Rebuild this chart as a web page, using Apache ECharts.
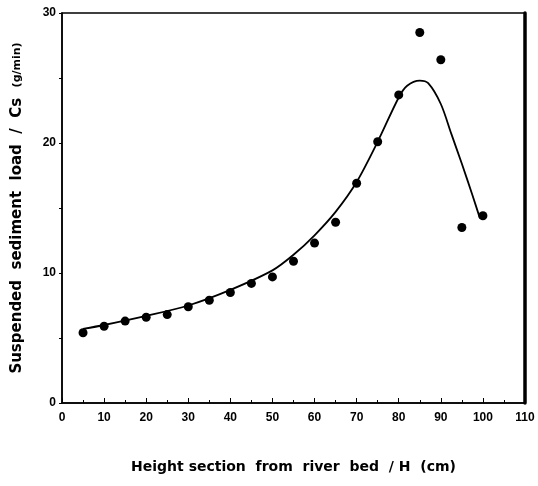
<!DOCTYPE html>
<html>
<head>
    <meta http-equiv="Content-Type" content="text/html; charset=utf-8"/>
    <script src="https://cdn.jsdelivr.net/npm/echarts@6/dist/echarts.min.js"></script>
    <style>
        html, body { margin: 0; padding: 0; background: #fff; }
    </style>
</head>
<body>

<div id="chart" style="width: 538px; height: 486px;"></div>

<script type="text/javascript">
    // measured points: height (cm) -> Cs (g/min)
    var heights = [5, 10, 15, 20, 25, 30, 35, 40, 45, 50, 55, 60, 65, 70, 75, 80, 85, 90, 95, 100];
    var loads = [5.4, 5.9, 6.3, 6.6, 6.8, 7.4, 7.9, 8.5, 9.2, 9.7, 10.9, 12.3, 13.9, 16.9, 20.1, 23.7, 28.5, 26.4, 13.5, 14.4];

    // hand drawn fitting curve
    var curveX = [5, 10, 20, 30, 40, 50, 55, 60, 65, 70, 75, 80, 82, 85, 87, 90, 92.5, 95, 97.5, 99.3];
    var curveY = [5.7, 6.0, 6.7, 7.5, 8.7, 10.2, 11.4, 12.9, 14.7, 17.0, 20.1, 23.5, 24.4, 24.8, 24.6, 23.0, 20.7, 18.4, 16.0, 14.2];

    var pts = heights.map(function (h, i) { return [h, loads[i]]; });
    var curve = curveX.map(function (x, i) { return [x, curveY[i]]; });

    var font = 'Liberation Sans';
    var chart = echarts.init(document.getElementById('chart'));

    var option = {
        animation: false,
        grid: {
            left: 62,
            right: 13,
            top: 13,
            bottom: 83,
            show: true,
            borderColor: '#000',
            borderWidth: 1.5
        },
        xAxis: {
            type: 'value',
            min: 0,
            max: 110,
            interval: 10,
            name: 'Height section  from  river  bed  / H  (cm)',
            nameLocation: 'middle',
            nameGap: 57,
            nameTextStyle: { color: '#000', fontFamily: 'DejaVu Sans', fontWeight: 'bold', fontSize: 14 },
            axisLine: { lineStyle: { color: '#000', width: 1.5 } },
            axisTick: { inside: true, length: 5, lineStyle: { color: '#000' } },
            minorTick: { show: true, splitNumber: 2, length: 3, lineStyle: { color: '#000' } },
            splitLine: { show: false },
            axisLabel: { color: '#000', fontFamily: font, fontWeight: 'bold', fontSize: 12, margin: 9 }
        },
        yAxis: [{
            type: 'value',
            min: 0,
            max: 30,
            interval: 10,
            name: '{a|Suspended  sediment  load  /  Cs  }{b|(g/min)}',
            nameLocation: 'middle',
            nameGap: 37,
            nameTextStyle: {
                rich: {
                    a: { color: '#000', fontFamily: 'DejaVu Sans', fontWeight: 'bold', fontSize: 15 },
                    b: { color: '#000', fontFamily: 'DejaVu Sans', fontWeight: 'bold', fontSize: 11 }
                }
            },
            axisLine: { lineStyle: { color: '#000', width: 1.5 } },
            axisTick: { show: true, inside: false, length: 3, lineStyle: { color: '#000' } },
            minorTick: { show: true, splitNumber: 2, length: 3, lineStyle: { color: '#000' } },
            splitLine: { show: false },
            axisLabel: { color: '#000', fontFamily: font, fontWeight: 'bold', fontSize: 12, margin: 6 }
        }, {
            type: 'value',
            position: 'right',
            min: 0,
            max: 30,
            interval: 10,
            axisLine: { show: true, lineStyle: { color: '#000', width: 3.5 } },
            axisTick: { show: false },
            axisLabel: { show: false },
            splitLine: { show: false }
        }],
        series: [{
            name: 'curve',
            type: 'line',
            data: curve,
            smooth: 0.3,
            showSymbol: false,
            lineStyle: { color: '#000', width: 1.8 }
        }, {
            name: 'measured',
            type: 'scatter',
            data: pts,
            symbol: 'circle',
            symbolSize: 9,
            itemStyle: { color: '#000', opacity: 1 }
        }]
    };

    chart.setOption(option);
</script>

</body>
</html>
